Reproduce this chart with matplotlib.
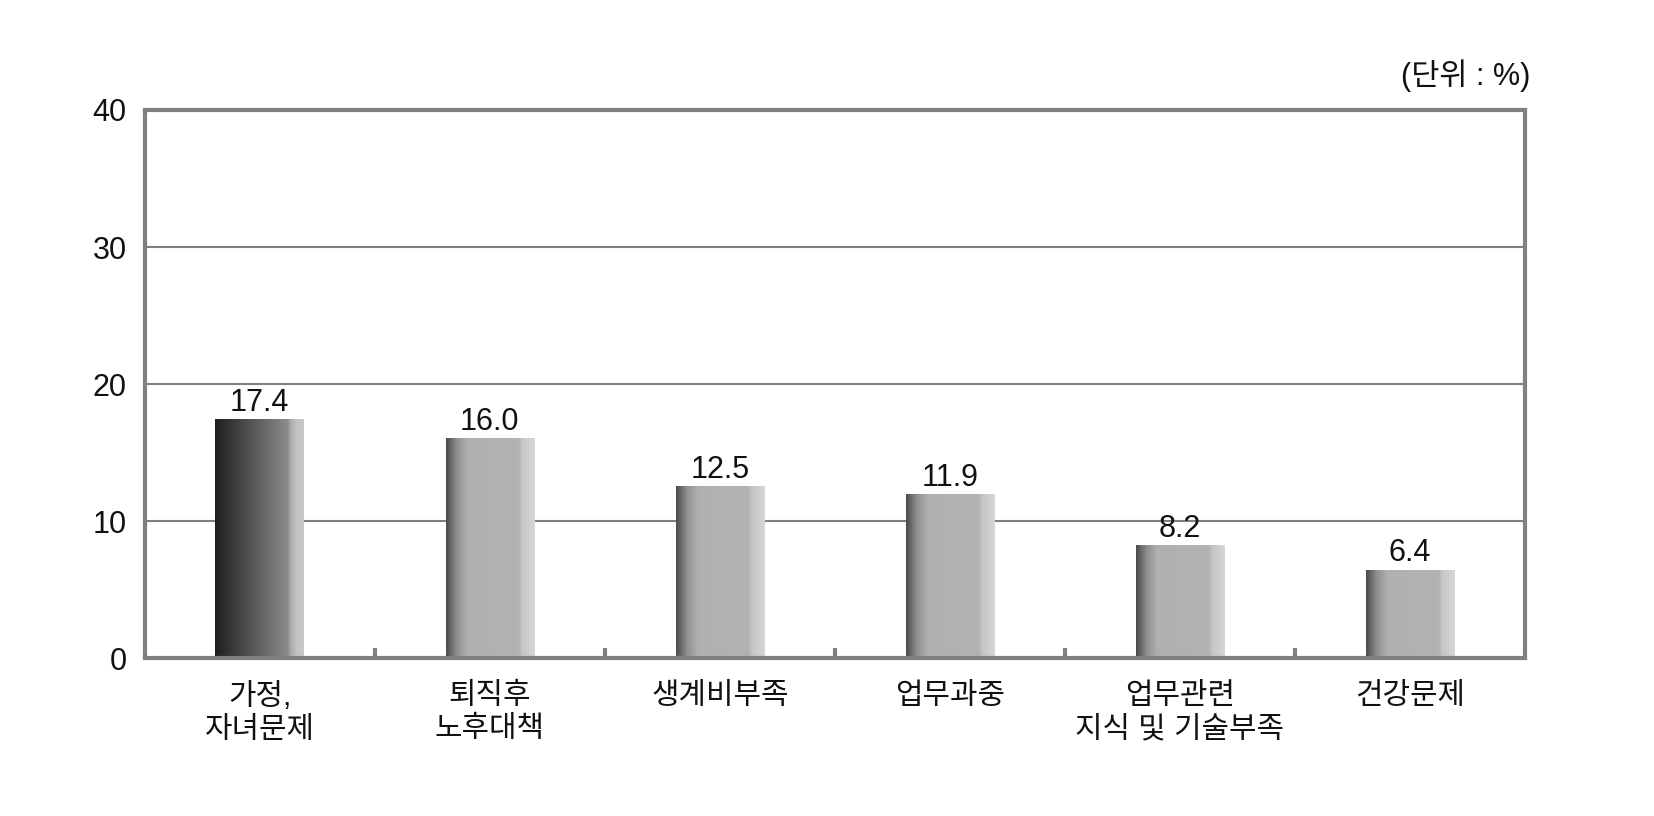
import matplotlib
matplotlib.use("Agg")
import matplotlib.pyplot as plt
import numpy as np
from matplotlib.colors import LinearSegmentedColormap

categories = ["가정,\n자녀문제", "퇴직후\n노후대책", "생계비부족", "업무과중", "업무관련\n지식 및 기술부족", "건강문제"]
values = [17.4, 16.0, 12.5, 11.9, 8.2, 6.4]
yticks = [0, 10, 20, 30, 40]
unit_label = "(단위 : %)"

plt.rcParams['font.family'] = ['Liberation Sans', 'Noto Sans CJK KR', 'DejaVu Sans']

fig = plt.figure(figsize=(16.54, 8.16), dpi=100)
ax = fig.add_axes([0.0875, 0.1936, 0.8345, 0.6716])

ax.set_xlim(-0.5, len(categories) - 0.5)
ax.set_ylim(0, 40)

for y in yticks[1:-1]:
    ax.axhline(y, color='#808080', linewidth=1.5, zorder=1)

bars = ax.bar(range(len(categories)), values, width=0.385, color='none', edgecolor='none', zorder=2)

cmap_first = LinearSegmentedColormap.from_list('first', [
    (0.0, '#1e1e1e'), (0.82, '#8c8c8c'), (0.86, '#b0b0b0'), (0.93, '#c4c4c4'), (1.0, '#c8c8c8')])
cmap_other = LinearSegmentedColormap.from_list('other', [
    (0.0, '#4a4a4a'), (0.12, '#8e8e8e'), (0.24, '#b0b0b0'), (0.82, '#b3b3b3'), (0.86, '#c6c6c6'), (1.0, '#d6d6d6')])
grad = np.linspace(0, 1, 256).reshape(1, -1)

for i, b in enumerate(bars):
    x0 = b.get_x()
    w = b.get_width()
    h = b.get_height()
    cm = cmap_first if i == 0 else cmap_other
    ax.imshow(grad, cmap=cm, extent=[x0, x0 + w, 0, h], aspect='auto', zorder=2, interpolation='bilinear')
    ax.text(x0 + w / 2, h + 0.15, f"{values[i]:.1f}", ha='center', va='bottom', fontsize=22, color='#111111', zorder=3)

ax.set_xlim(-0.5, len(categories) - 0.5)
ax.set_ylim(0, 40)

for s in ax.spines.values():
    s.set_color('#808080')
    s.set_linewidth(3)

ax.set_yticks(yticks)
ax.set_yticklabels([str(t) for t in yticks], fontsize=22, color='#111111')
ax.tick_params(axis='y', length=0, pad=13)

ax.set_xticks(range(len(categories)))
ax.set_xticklabels(categories, fontsize=21.5, color='#111111', linespacing=1.25)
ax.tick_params(axis='x', length=0, pad=17)

ax.set_xticks([i + 0.5 for i in range(len(categories) - 1)], minor=True)
ax.tick_params(axis='x', which='minor', direction='in', length=7, width=3, color='#808080')

fig.text(0.925, 0.907, unit_label, ha='right', va='center', fontsize=22, color='#111111')

fig.savefig('out.png', dpi=100, facecolor='white')
